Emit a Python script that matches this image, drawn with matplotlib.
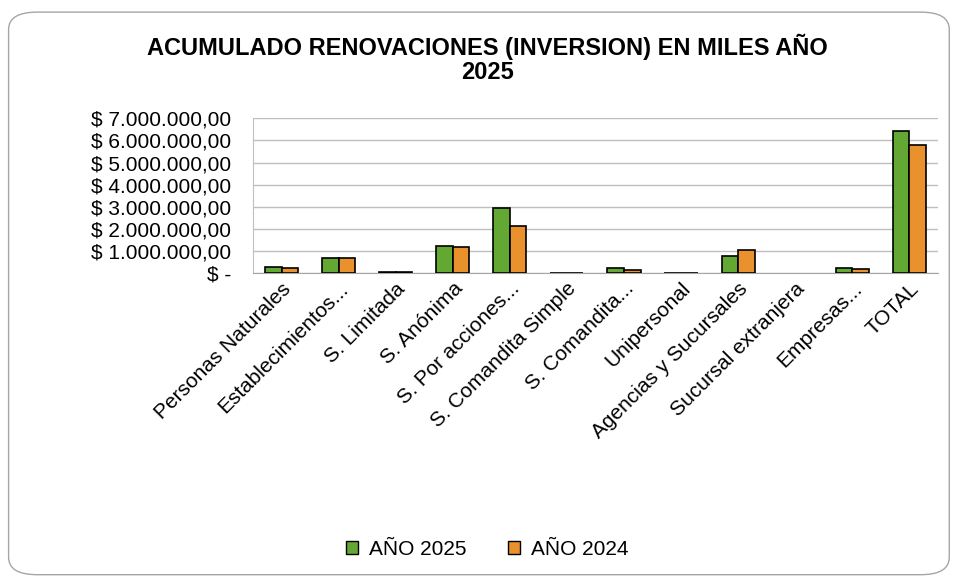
#!/usr/bin/env python3
"""Acumulado renovaciones (inversion) en miles - 2025 vs 2024."""

import numpy as np
import matplotlib
matplotlib.use('Agg')
import matplotlib.pyplot as plt
from matplotlib.patches import FancyBboxPatch, Patch
from matplotlib.ticker import FuncFormatter

plt.rcParams['font.family'] = ['Liberation Sans', 'DejaVu Sans']

COL_GREEN = '#63a832'
COL_ORANGE = '#e8912d'
COL_GRID = '#bfbfbf'

categories = ['Personas Naturales', 'Establecimientos...', 'S. Limitada', 'S. Anónima',
              'S. Por acciones...', 'S. Comandita Simple', 'S. Comandita...', 'Unipersonal',
              'Agencias y Sucursales', 'Sucursal extranjera', 'Empresas...', 'TOTAL']
anio_2025 = [290000, 680000, 90000, 1220000, 2950000, 20000, 230000, 20000,
             780000, 0, 230000, 6410000]
anio_2024 = [260000, 690000, 80000, 1210000, 2140000, 20000, 170000, 20000,
             1080000, 0, 200000, 5810000]


def money(v, pos):
    if v == 0:
        return '$ -'
    s = f'{v:,.2f}'.replace(',', 'X').replace('.', ',').replace('X', '.')
    return f'$ {s}'


fig = plt.figure(figsize=(9.55, 5.77), dpi=100)
fig.patches.append(FancyBboxPatch((0.009, 0.004), 0.985, 0.975,
                                  boxstyle='round,pad=0,rounding_size=0.03',
                                  transform=fig.transFigure, facecolor='white',
                                  edgecolor='#a6a6a6', linewidth=1.0, zorder=-1))

ax = fig.add_axes([0.265, 0.526, 0.717, 0.269])
x = np.arange(len(categories))
w = 0.29
edges_25 = ['black' if v > 0 else 'none' for v in anio_2025]
edges_24 = ['black' if v > 0 else 'none' for v in anio_2024]
ax.bar(x - w / 2, anio_2025, w, color=COL_GREEN, edgecolor=edges_25, linewidth=1.2,
       label='AÑO 2025', zorder=3)
ax.bar(x + w / 2, anio_2024, w, color=COL_ORANGE, edgecolor=edges_24, linewidth=1.2,
       label='AÑO 2024', zorder=3)

ax.set_xlim(-0.5, len(categories) - 0.5)
ax.set_ylim(0, 7000000)
ax.set_yticks(np.arange(0, 7000001, 1000000))
ax.yaxis.set_major_formatter(FuncFormatter(money))
ax.grid(axis='y', color=COL_GRID, linewidth=1.0, zorder=0)
for s in ['top', 'right']:
    ax.spines[s].set_visible(False)
ax.spines['left'].set_color(COL_GRID)
ax.spines['bottom'].set_color('#a6a6a6')
ax.tick_params(axis='y', length=0, labelsize=15, pad=16)
ax.tick_params(axis='x', length=0, labelsize=15, pad=4)
ax.set_xticks(x)
ax.set_xticklabels(categories, rotation=45, ha='right', rotation_mode='anchor')

fig.text(0.51, 0.898, 'ACUMULADO RENOVACIONES (INVERSION) EN MILES AÑO\n2025',
         ha='center', va='center', fontsize=17, fontweight='bold', linespacing=1.1)

handles = [Patch(facecolor=COL_GREEN, edgecolor='black'),
           Patch(facecolor=COL_ORANGE, edgecolor='black')]
fig.legend(handles, ['AÑO 2025', 'AÑO 2024'], loc='center', bbox_to_anchor=(0.51, 0.048),
           ncol=2, frameon=False, fontsize=15, handlelength=0.6, handleheight=0.6,
           handletextpad=0.5, columnspacing=2.0)

plt.savefig('out.png', dpi=100)
